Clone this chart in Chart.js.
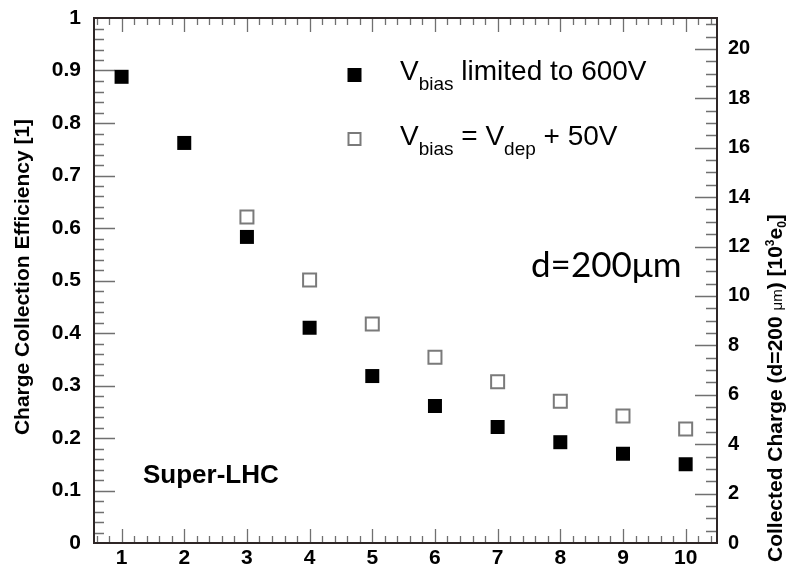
<!DOCTYPE html>
<html>
<head>
<meta charset="utf-8">
<script src="https://cdn.jsdelivr.net/npm/chart.js@4.4.1/dist/chart.umd.min.js"></script>
<style>
  html, body { margin: 0; padding: 0; background: #fff; }
</style>
</head>
<body>
<canvas id="chart" width="789" height="571"></canvas>
<script>
// fluence points on the x axis
const fluence = [1, 2, 3, 4, 5, 6, 7, 8, 9, 10]
// charge collection efficiency with V_bias limited to 600 V
const cceLimited = [0.888, 0.762, 0.583, 0.410, 0.318, 0.261, 0.221, 0.192, 0.170, 0.150]
// charge collection efficiency with V_bias = V_dep + 50 V
const cceDepPlus50 = [null, null, 0.621, 0.501, 0.417, 0.354, 0.307, 0.270, 0.242, 0.217]

const cceTicks = [0, 0.1, 0.2, 0.3, 0.4, 0.5, 0.6, 0.7, 0.8, 0.9, 1]
const chargeTicks = [0, 2, 4, 6, 8, 10, 12, 14, 16, 18, 20]
const chargeAtFullCce = 21.25 // 10^3 e0 collected at CCE = 1

const FONT = '"Liberation Sans", Arial, Helvetica, sans-serif'

function toPoints(xs, ys) {
  return xs.map((x, i) => ({ x: x, y: ys[i] }))
}

function steps(min, max, step) {
  const out = []
  for (let v = Math.ceil(min / step - 1e-6) * step; v <= max + 1e-9; v += step) out.push(+v.toFixed(4))
  return out
}

// draws a row of text pieces (for sub/superscripts)
function drawRuns(ctx, runs, x, y) {
  ctx.textAlign = 'left'
  ctx.textBaseline = 'alphabetic'
  runs.forEach(r => {
    ctx.font = r.font
    ctx.fillText(r.text, x, y + (r.dy || 0))
    x += ctx.measureText(r.text).width
  })
}

// ROOT style frame with inward major / minor ticks
const rootFrame = {
  id: 'rootFrame',
  beforeDatasetsDraw(chart) {
    const { ctx, chartArea: a, scales } = chart
    const x = scales.x, y = scales.y, y2 = scales.y2
    ctx.save()
    ctx.strokeStyle = '#707070'
    ctx.lineWidth = 1.3
    ctx.beginPath()
    const xMajor = steps(x.min, x.max, 1)
    steps(x.min, x.max, 0.2).forEach(v => {
      const px = Math.round(x.getPixelForValue(v)) + 0.5
      const major = xMajor.includes(v)
      ctx.moveTo(px, a.bottom); ctx.lineTo(px, a.bottom - (major ? 14 : 7))
      ctx.moveTo(px, a.top); ctx.lineTo(px, a.top + (major ? 14 : 7))
    })
    const yMajor = steps(0, 1, 0.1)
    steps(y.min, y.max, 0.02).forEach(v => {
      if (v <= y.min || v >= y.max) return
      const py = Math.round(y.getPixelForValue(v)) + 0.5
      const major = yMajor.includes(v)
      ctx.moveTo(a.left, py); ctx.lineTo(a.left + (major ? 21 : 10), py)
    })
    const cMajor = steps(0, y2.max, 2)
    steps(y2.min, y2.max, 0.5).forEach(v => {
      if (v <= y2.min) return
      const py = Math.round(y2.getPixelForValue(v)) + 0.5
      const major = cMajor.includes(v)
      ctx.moveTo(a.right, py); ctx.lineTo(a.right - (major ? 22 : 11), py)
    })
    ctx.stroke()
    ctx.strokeStyle = '#2e2626'
    ctx.lineWidth = 2
    ctx.strokeRect(a.left, a.top, a.right - a.left, a.bottom - a.top)
    ctx.restore()
  },
  afterDraw(chart) {
    const { ctx } = chart
    const ds = chart.data.datasets
    ctx.save()
    ctx.fillStyle = '#000'

    // axis titles
    ctx.save()
    ctx.translate(23, 277)
    ctx.rotate(-Math.PI / 2)
    ctx.font = 'bold 21px ' + FONT
    ctx.textAlign = 'center'
    ctx.textBaseline = 'middle'
    ctx.fillText('Charge Collection Efficiency [1]', 0, 0)
    ctx.restore()

    ctx.save()
    ctx.translate(782, 562)
    ctx.rotate(-Math.PI / 2)
    drawRuns(ctx, [
      { text: 'Collected Charge (d=200 ', font: 'bold 21px ' + FONT },
      { text: 'μm', font: '15px ' + FONT },
      { text: ') [10', font: 'bold 21px ' + FONT },
      { text: '3', font: 'bold 12px ' + FONT, dy: -8 },
      { text: 'e', font: 'bold 21px ' + FONT },
      { text: '0', font: 'bold 12px ' + FONT, dy: 4 },
      { text: ']', font: 'bold 21px ' + FONT }
    ], 0, 0)
    ctx.restore()

    // legend
    ctx.fillStyle = ds[0].backgroundColor
    ctx.fillRect(347.5, 68, 14, 14)
    ctx.strokeStyle = ds[1].borderColor
    ctx.lineWidth = ds[1].borderWidth
    ctx.strokeRect(348.5, 133, 12, 12)
    ctx.fillStyle = '#000'
    const big = '28px ' + FONT, sub = '19px ' + FONT
    drawRuns(ctx, [
      { text: 'V', font: big },
      { text: 'bias', font: sub, dy: 10 },
      { text: ' limited to 600V', font: big }
    ], 400, 80)
    drawRuns(ctx, [
      { text: 'V', font: big },
      { text: 'bias', font: sub, dy: 10 },
      { text: ' = V', font: big },
      { text: 'dep', font: sub, dy: 10 },
      { text: ' + 50V', font: big }
    ], 400, 145)

    // annotations
    ctx.font = '35px Lato, "Open Sans", sans-serif'
    ctx.fillText('d=200μm', 531, 277)
    ctx.font = 'bold 26px ' + FONT
    ctx.fillText('Super-LHC', 143, 483)
    ctx.restore()
  }
}

new Chart(document.getElementById('chart'), {
  type: 'scatter',
  data: {
    datasets: [
      {
        label: 'V_bias limited to 600V',
        data: toPoints(fluence, cceLimited),
        pointStyle: 'rect',
        pointRadius: 9.9,
        pointHoverRadius: 9.9,
        borderWidth: 0,
        backgroundColor: '#000',
        borderColor: '#000'
      },
      {
        label: 'V_bias = V_dep + 50V',
        data: toPoints(fluence, cceDepPlus50),
        pointStyle: 'rect',
        pointRadius: 9.2,
        pointHoverRadius: 9.2,
        borderWidth: 2,
        backgroundColor: '#fff',
        borderColor: '#7a7a7a'
      }
    ]
  },
  options: {
    responsive: false,
    animation: false,
    layout: { padding: { top: 18, left: 0, right: 0, bottom: 0 } },
    plugins: { legend: { display: false }, tooltip: { enabled: false } },
    scales: {
      x: {
        type: 'linear',
        min: 0.56,
        max: 10.5,
        grid: { display: false },
        border: { display: false },
        afterBuildTicks: s => { s.ticks = fluence.map(v => ({ value: v })) },
        afterFit: s => { s.height = 28 },
        ticks: { color: '#000', padding: -5, font: { family: FONT, size: 21, weight: 'bold' } }
      },
      y: {
        position: 'left',
        min: 0,
        max: 1,
        grid: { display: false },
        border: { display: false },
        afterBuildTicks: s => { s.ticks = cceTicks.map(v => ({ value: v })) },
        afterFit: s => { s.width = 94 },
        ticks: {
          color: '#000', padding: 5,
          font: { family: FONT, size: 21, weight: 'bold' },
          callback: v => String(+v.toFixed(1))
        }
      },
      y2: {
        position: 'right',
        min: 0,
        max: chargeAtFullCce,
        grid: { display: false },
        border: { display: false },
        afterBuildTicks: s => { s.ticks = chargeTicks.map(v => ({ value: v })) },
        afterFit: s => { s.width = 72 },
        ticks: {
          color: '#000', padding: 3,
          font: { family: FONT, size: 20, weight: 'bold' },
          callback: v => String(v)
        }
      }
    }
  },
  plugins: [rootFrame]
})
</script>
</body>
</html>
